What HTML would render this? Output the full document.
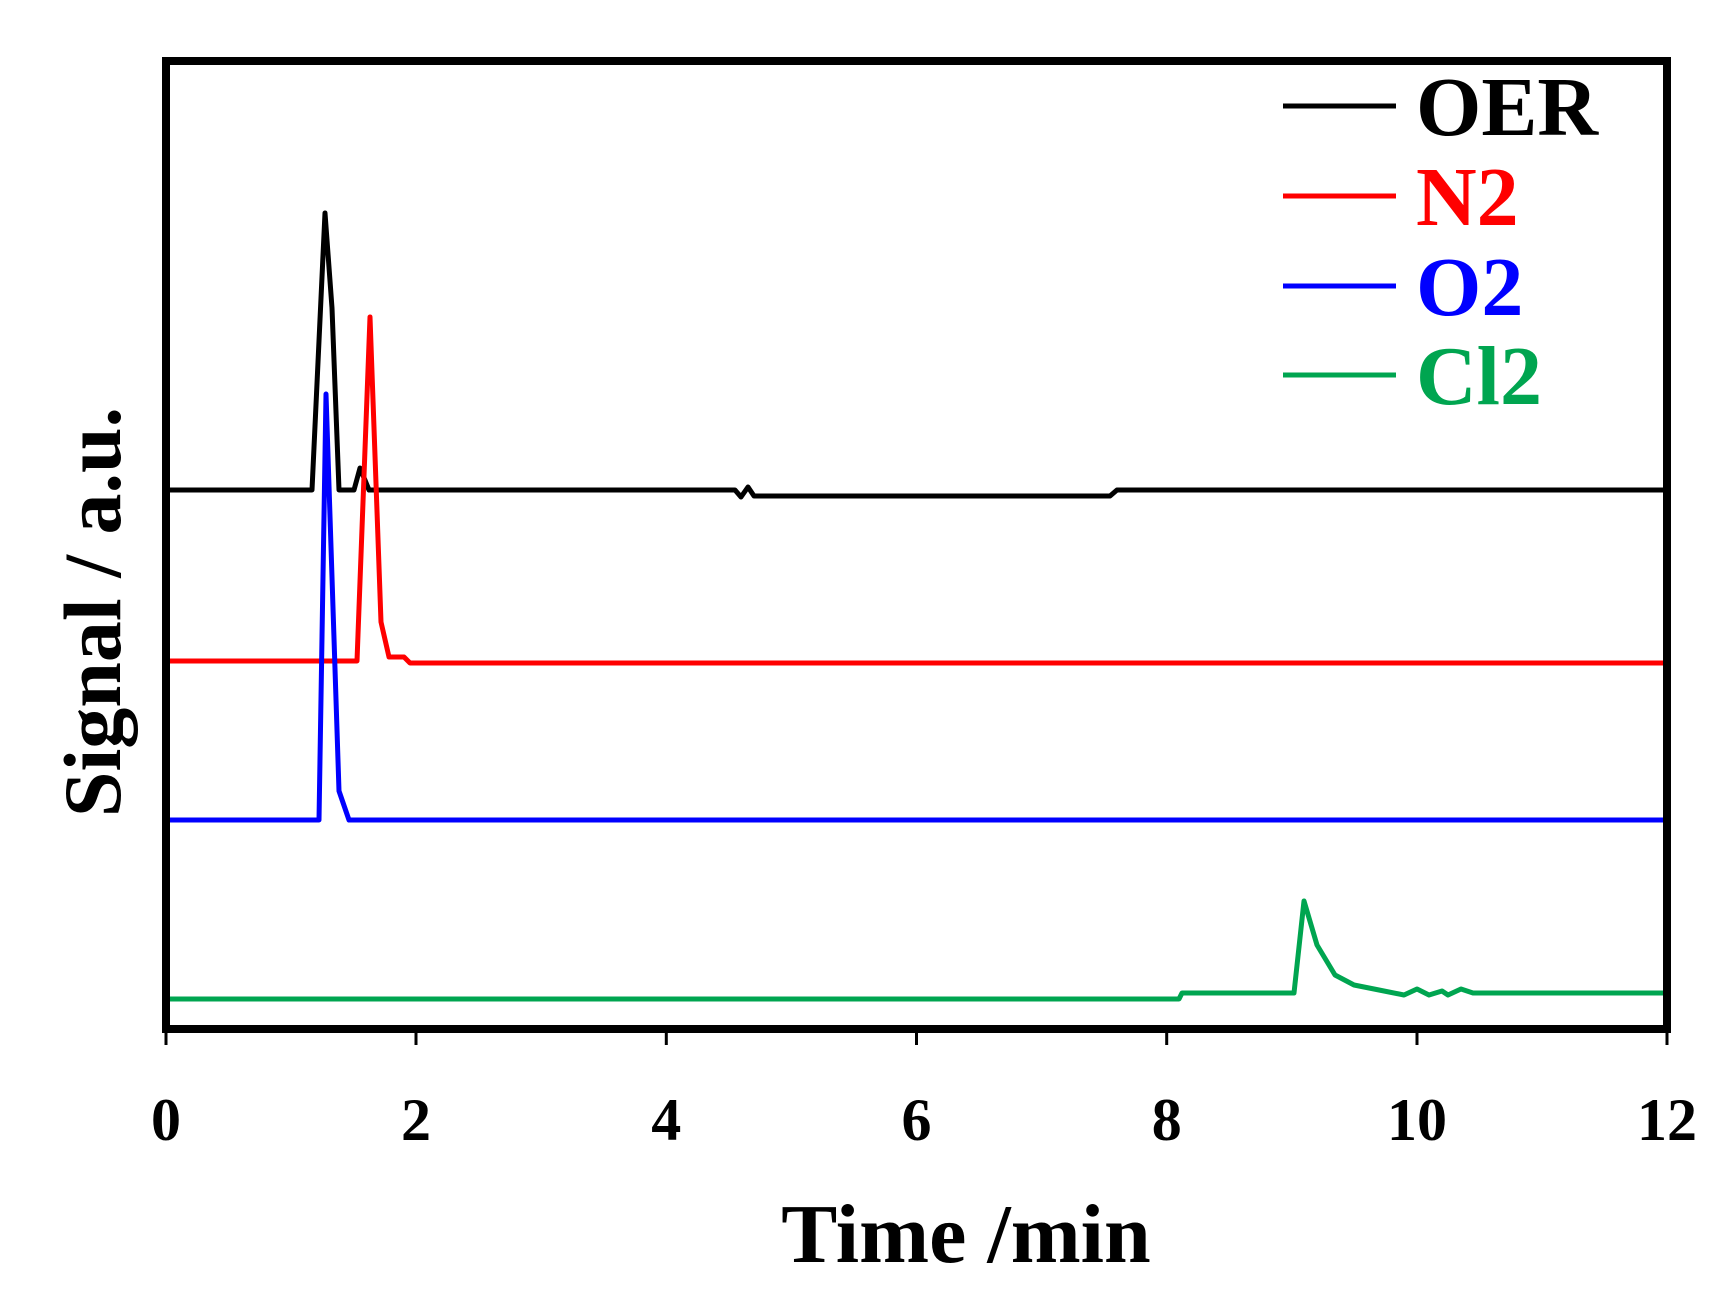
<!DOCTYPE html>
<html><head><meta charset="utf-8"><style>html,body{margin:0;padding:0;background:#fff}svg{display:block}</style></head>
<body>
<svg width="1735" height="1314" viewBox="0 0 1735 1314" xmlns="http://www.w3.org/2000/svg" font-family="'Liberation Serif', serif" font-weight="bold">
<rect width="1735" height="1314" fill="#fff"/>
<g fill="none" stroke-width="5" stroke-linejoin="round">
<polyline stroke="#000" points="170,490 312,490 325,213 332,308 339,490 354,490 360,468 369,490 735,490 741,497 748,487 754,496 1110,496 1117,490 1129,490 1663,490"/>
<polyline stroke="#ff0000" points="166,661 357,661 370,317 381,622 389,657 404,657 410,663 1667,663"/>
<polyline stroke="#0000ff" points="170,820 319,820 326,394 339,791 349,820 1667,820"/>
<polyline stroke="#00a550" points="170,999 1179,999 1182,993 1294,993 1304,901 1317,945 1335,975 1354,985 1379,990 1404,995 1417,989 1429,995 1442,991 1448,995 1461,989 1473,993 1663,993"/>
</g>
<rect x="166" y="61" width="1501" height="968" fill="none" stroke="#000" stroke-width="8"/>
<g stroke="#000" stroke-width="3">
<line x1="166" y1="1029" x2="166" y2="1045"/><line x1="416" y1="1029" x2="416" y2="1045"/><line x1="666.3" y1="1029" x2="666.3" y2="1045"/><line x1="916.5" y1="1029" x2="916.5" y2="1045"/><line x1="1166.7" y1="1029" x2="1166.7" y2="1045"/><line x1="1417" y1="1029" x2="1417" y2="1045"/><line x1="1667" y1="1029" x2="1667" y2="1045"/>
</g>
<g font-size="60" text-anchor="middle" fill="#000">
<text x="166" y="1140">0</text><text x="416" y="1140">2</text><text x="666.3" y="1140">4</text><text x="916.5" y="1140">6</text><text x="1166.7" y="1140">8</text><text x="1417" y="1140">10</text><text x="1667" y="1140">12</text>
</g>
<text x="966" y="1262" font-size="84" text-anchor="middle">Time /min</text>
<text transform="translate(120,612) rotate(-90)" font-size="82" text-anchor="middle">Signal / a.u.</text>
<g stroke-width="5">
<line x1="1283" y1="106" x2="1396" y2="106" stroke="#000"/>
<line x1="1283" y1="196" x2="1396" y2="196" stroke="#ff0000"/>
<line x1="1283" y1="286" x2="1396" y2="286" stroke="#0000ff"/>
<line x1="1283" y1="375" x2="1396" y2="375" stroke="#00a550"/>
</g>
<g font-size="84">
<text x="1416" y="135" fill="#000">OER</text>
<text x="1416" y="225" fill="#ff0000">N2</text>
<text x="1416" y="315" fill="#0000ff">O2</text>
<text x="1416" y="404" fill="#00a550">Cl2</text>
</g>
</svg>
</body></html>
